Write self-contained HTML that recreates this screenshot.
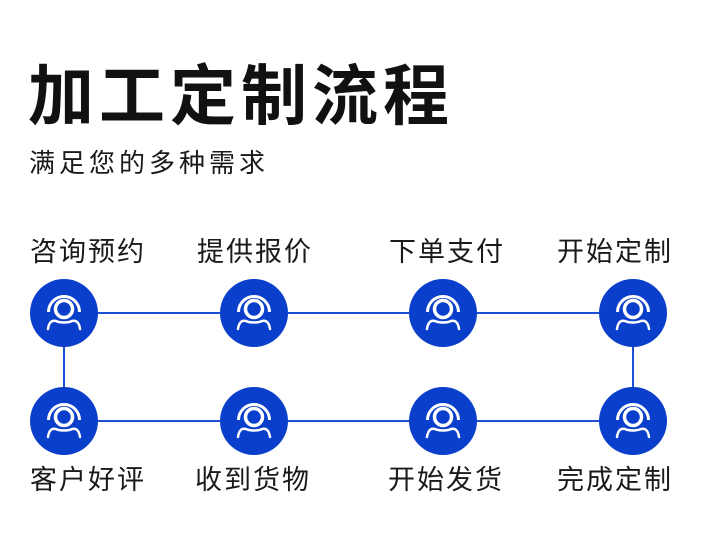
<!DOCTYPE html>
<html><head><meta charset="utf-8"><style>
body{margin:0;width:701px;height:552px;background:#fff;position:relative;overflow:hidden;font-family:"Liberation Sans","Noto Sans CJK SC",sans-serif;color:#1a1a1a}
.t{position:absolute;white-space:nowrap}
.l{font-size:27px;letter-spacing:2px;line-height:32px}
</style></head><body>
<div class="t" style="left:28px;top:56px;font-size:66px;font-weight:700;letter-spacing:5px;line-height:80px;color:#111">加工定制流程</div>
<div class="t" style="left:29px;top:147px;font-size:26px;letter-spacing:4px;line-height:32px">满足您的多种需求</div>
<div class="t l" style="left:30px;top:236px">咨询预约</div>
<div class="t l" style="left:197px;top:236px">提供报价</div>
<div class="t l" style="left:389px;top:236px">下单支付</div>
<div class="t l" style="left:557px;top:236px">开始定制</div>
<div class="t l" style="left:30px;top:464px">客户好评</div>
<div class="t l" style="left:195px;top:464px">收到货物</div>
<div class="t l" style="left:388px;top:464px">开始发货</div>
<div class="t l" style="left:557px;top:464px">完成定制</div>
<svg width="701" height="552" style="position:absolute;left:0;top:0">
<defs>
<g id="ic">
<circle r="34" fill="#0a3fcc"/>
<circle cx="0" cy="-4" r="8.5" fill="none" stroke="#fff" stroke-width="3.5"/>
<path d="M-15.5,-1 A15.5,15.5 0 1 1 15.5,-1" fill="none" stroke="#fff" stroke-width="3"/>
<path d="M-16,16 C-15,9 -12,7 -8,8 C-4,10 4,10 8,8 C12,7 15,9 16,16" fill="none" stroke="#fff" stroke-width="2.5" stroke-linecap="round"/>
</g>
</defs>
<g stroke="#1f4fd6" stroke-width="2" fill="none">
<line x1="64" y1="313" x2="633" y2="313"/>
<line x1="64" y1="421" x2="633" y2="421"/>
<line x1="64" y1="313" x2="64" y2="421"/>
<line x1="633" y1="313" x2="633" y2="421"/>
</g>
<use href="#ic" x="64" y="313"/><use href="#ic" x="254" y="313"/><use href="#ic" x="443" y="313"/><use href="#ic" x="633" y="313"/>
<use href="#ic" x="64" y="421"/><use href="#ic" x="254" y="421"/><use href="#ic" x="443" y="421"/><use href="#ic" x="633" y="421"/>
</svg>
</body></html>
